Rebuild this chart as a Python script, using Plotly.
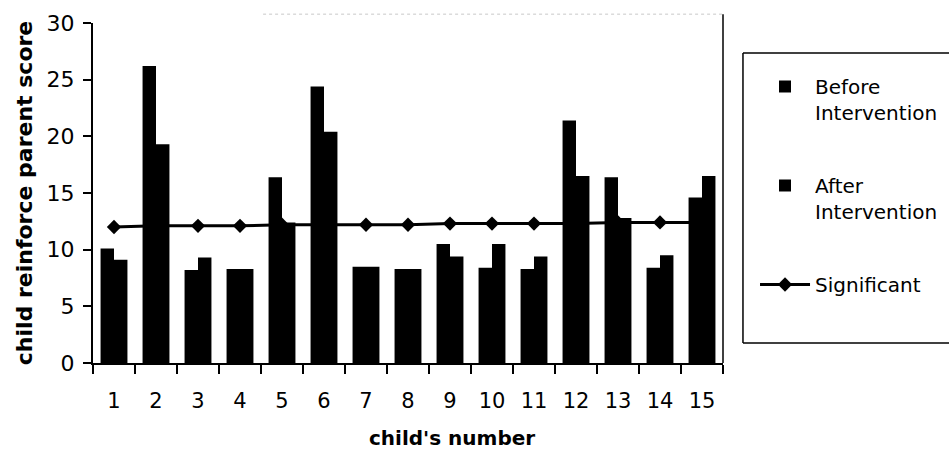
import plotly.graph_objects as go

children = list(range(1, 16))
child_labels = [str(c) for c in children]
before = [10.1, 26.2, 8.2, 8.3, 16.4, 24.4, 8.5, 8.3, 10.5, 8.4, 8.3, 21.4, 16.4, 8.4, 14.6]
after = [9.1, 19.3, 9.3, 8.3, 12.4, 20.4, 8.5, 8.3, 9.4, 10.5, 9.4, 16.5, 12.8, 9.5, 16.5]
significant = [12.0, 12.1, 12.1, 12.1, 12.2, 12.2, 12.2, 12.2, 12.3, 12.3, 12.3, 12.3, 12.4, 12.4, 12.4]
y_ticks = [0, 5, 10, 15, 20, 25, 30]
boundaries = [c - 0.5 for c in children] + [children[-1] + 0.5]

FONT = "DejaVu Sans, Liberation Sans, Arial, sans-serif"

fig = go.Figure()
fig.add_trace(go.Bar(x=children, y=before, name="Before<br>Intervention",
                     marker=dict(color="black", line=dict(width=0)),
                     legendgroup="a"))
fig.add_trace(go.Bar(x=children, y=after, name="After<br>Intervention",
                     marker=dict(color="black", line=dict(width=0)),
                     legendgroup="b"))
fig.add_trace(go.Scatter(x=children, y=significant, name="Significant",
                         mode="lines+markers",
                         line=dict(color="black", width=3),
                         marker=dict(symbol="diamond", size=11, color="black"),
                         legendgroup="c"))

# legend frame (left, top, bottom edges; right edge lies beyond the page)
LX0, LX1, LY0, LY1 = 1.0317, 1.36, 0.0588, 0.9118

# plot area: x 93..723 px, y 23..363 px
fig.update_layout(
    width=949, height=457,
    margin=dict(l=93, r=226, t=23, b=94),
    paper_bgcolor="white", plot_bgcolor="white",
    barmode="group", bargap=0.36, bargroupgap=0,
    font=dict(family=FONT, color="black", size=20),
    showlegend=True,
    legend=dict(
        xref="container", yref="container",
        x=0.7956, y=0.8534, xanchor="left", yanchor="top",
        borderwidth=0, bgcolor="rgba(0,0,0,0)",
        font=dict(family=FONT, size=20, color="black"),
        traceorder="grouped", tracegroupgap=44,
        itemwidth=50, valign="top", maxheight=400,
    ),
    xaxis=dict(
        range=[0.5, 15.5], tickmode="array", tickvals=children, ticktext=child_labels,
        ticks="", showline=True, linecolor="black", linewidth=2,
        showgrid=False, zeroline=False, ticklabelstandoff=18, automargin=False,
        tickfont=dict(size=21, family=FONT),
        minor=dict(tickmode="array", tickvals=boundaries, ticks="outside",
                   ticklen=9, tickwidth=2, tickcolor="black", showgrid=False),
    ),
    xaxis2=dict(
        overlaying="x", anchor="y", range=[0.5, 15.5], tickmode="array",
        tickvals=boundaries, ticks="inside", ticklen=8, tickwidth=2,
        tickcolor="black", showticklabels=False, showgrid=False,
        zeroline=False, showline=False, automargin=False,
    ),
    yaxis=dict(
        range=[0, 30], tickmode="array", tickvals=y_ticks,
        ticks="outside", ticklen=8, tickwidth=2, tickcolor="black",
        showline=True, linecolor="black", linewidth=2,
        showgrid=False, zeroline=False, ticklabelstandoff=4, automargin=False,
        tickfont=dict(size=22, family=FONT),
        title=dict(text="<b>child reinforce parent score</b>",
                   font=dict(size=22, family=FONT), standoff=8),
    ),
    yaxis2=dict(
        overlaying="y", anchor="x", range=[0, 30], tickmode="array",
        tickvals=y_ticks, ticks="inside", ticklen=7, tickwidth=2,
        tickcolor="black", showticklabels=False, showgrid=False,
        zeroline=False, showline=False, automargin=False,
    ),
    annotations=[dict(
        text="<b>child's number</b>", xref="paper", yref="paper",
        x=0.57, y=-0.22, xanchor="center", yanchor="middle",
        showarrow=False, font=dict(size=20, family=FONT, color="black"),
    )],
    shapes=[
        # plot-area right border
        dict(type="line", xref="paper", yref="paper", x0=1, x1=1, y0=0, y1=1.026,
             line=dict(color="black", width=1.5)),
        # faint top border
        dict(type="line", xref="paper", yref="paper", x0=0.27, x1=1, y0=1.026, y1=1.026,
             line=dict(color="#c8c8c8", width=1, dash="dot")),
        # legend frame
        dict(type="line", xref="paper", yref="paper", x0=LX0, x1=LX0, y0=LY0, y1=LY1,
             line=dict(color="black", width=1.5)),
        dict(type="line", xref="paper", yref="paper", x0=LX0, x1=LX1, y0=LY1, y1=LY1,
             line=dict(color="black", width=1.5)),
        dict(type="line", xref="paper", yref="paper", x0=LX0, x1=LX1, y0=LY0, y1=LY0,
             line=dict(color="black", width=1.5)),
    ],
)

fig.write_html("out.html", config={"displayModeBar": False},
               post_script="document.body.style.margin='0';")
